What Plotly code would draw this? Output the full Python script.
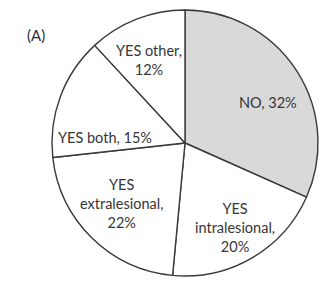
import math
import plotly.graph_objects as go

categories = ["NO", "YES intralesional", "YES extralesional", "YES both", "YES other"]
values = [32, 20, 22, 15, 12]
slice_text = ["NO, 32%", "YES<br>intralesional,<br>20%", "YES<br>extralesional,<br>22%",
              "YES both, 15%", "YES other,<br>12%"]
colors = ["#d9d9d9", "#ffffff", "#ffffff", "#ffffff", "#ffffff"]
panel_label = "(A)"

# label placement style: radial fraction and pixel nudges
label_radius = [0.69, 0.74, 0.66, 0.60, 0.67]
label_dx = [6, 0, -2, -5, -4]
label_dy = [-9, 0, 2, -22, 0]

W, H = 320, 287
cx_px, cy_px, r_px = 185, 144, 133  # pie centre (from bottom) and radius in px
dom_x = [(cx_px - r_px) / W, (cx_px + r_px) / W]
dom_y = [(cy_px - r_px) / H, (cy_px + r_px) / H]

fig = go.Figure(go.Pie(
    labels=categories,
    values=values,
    textinfo="none",
    sort=False,
    direction="clockwise",
    rotation=0,
    marker=dict(colors=colors, line=dict(color="#3a3a3a", width=1.4)),
    showlegend=False,
    hoverinfo="label+percent",
    domain=dict(x=dom_x, y=dom_y),
))

total = sum(values)
cum = 0.0
for v, t, k, dx, dy in zip(values, slice_text, label_radius, label_dx, label_dy):
    mid = (cum + v / 2) / total * 2 * math.pi
    cum += v
    px = cx_px + k * r_px * math.sin(mid)
    py = cy_px + k * r_px * math.cos(mid)
    fig.add_annotation(text=t, x=px / W, y=py / H, xref="paper", yref="paper",
                       xanchor="center", yanchor="middle",
                       xshift=dx, yshift=dy, showarrow=False, align="center",
                       font=dict(family="Lato", size=14.5, color="#363636"))

fig.add_annotation(text=panel_label, x=36 / W, y=(H - 35) / H, xref="paper", yref="paper",
                   xanchor="center", yanchor="middle",
                   showarrow=False, font=dict(family="Lato", size=15, color="#2b2b3b"))

fig.update_layout(width=W, height=H, margin=dict(l=0, r=0, t=0, b=0),
                  paper_bgcolor="white", plot_bgcolor="white")

fig.write_html("out.html", config={"displayModeBar": False},
               post_script="document.body.style.margin='0';")
